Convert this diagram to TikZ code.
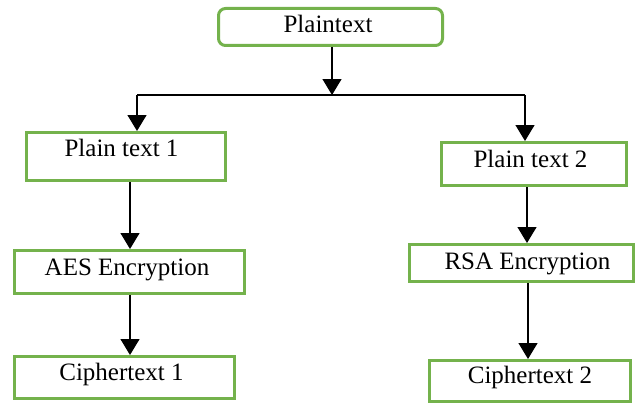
\documentclass[tikz,border=0pt]{standalone}
\usepackage{fontspec}
\setmainfont{Liberation Serif}
\usetikzlibrary{arrows.meta}
\definecolor{boxgreen}{RGB}{116,178,76}
\tikzset{
  box/.style={draw=boxgreen, line width=3pt, fill=white, inner sep=0pt},
  lbl/.style={anchor=base, inner sep=0pt, font=\fontsize{25}{29}\selectfont},
  link/.style={draw=black, line width=1.3pt},
  arr/.style={link, -{Triangle[width=19pt,length=16pt]}}
}
\begin{document}
\begin{tikzpicture}[x=1pt,y=-1pt]
\useasboundingbox (0,0) rectangle (637,404);

% boxes
\node[box, rounded corners=7pt, minimum width=224pt, minimum height=37pt] (pt) at (330.5,27) {};
\node[box, minimum width=199pt, minimum height=48pt] (p1) at (126,156.5) {};
\node[box, minimum width=185pt, minimum height=43pt] (p2) at (534,164) {};
\node[box, minimum width=230pt, minimum height=43pt] (aes) at (129.5,272) {};
\node[box, minimum width=224pt, minimum height=37pt] (rsa) at (521.5,263) {};
\node[box, minimum width=220pt, minimum height=42pt] (c1) at (124.5,377.5) {};
\node[box, minimum width=201pt, minimum height=41pt] (c2) at (530,381) {};

% labels
\node[lbl] (tpt) at (328,33) {Plaintext};
\node[lbl] (tp1) at (121.5,156) {Plain text 1};
\node[lbl] (tp2) at (530.5,167) {Plain text 2};
\node[lbl] (taes) at (127,275) {AES Encryption};
\node[lbl] (trsa) at (527.5,269) {RSA Encryption};
\node[lbl] (tc1) at (121.5,380) {Ciphertext 1};
\node[lbl] (tc2) at (530,383) {Ciphertext 2};

% split of the plaintext
\coordinate (junc) at (332,95);
\coordinate (jl) at (137,95);
\coordinate (jr) at (525,95);
\draw[link] (jl) -- (jr);
\draw[arr] (pt.south -| junc) -- (junc);
\draw[arr] (jl) -- (p1.north -| jl);
\draw[arr] (jr) -- (p2.north -| jr);

% left branch
\draw[arr] (p1.south -| 130,0) -- (aes.north -| 130,0);
\draw[arr] (aes.south -| 130,0) -- (c1.north -| 130,0);

% right branch
\draw[arr] (p2.south -| 527,0) -- (rsa.north -| 527,0);
\draw[arr] (rsa.south -| 528,0) -- (c2.north -| 528,0);
\end{tikzpicture}
\end{document}
